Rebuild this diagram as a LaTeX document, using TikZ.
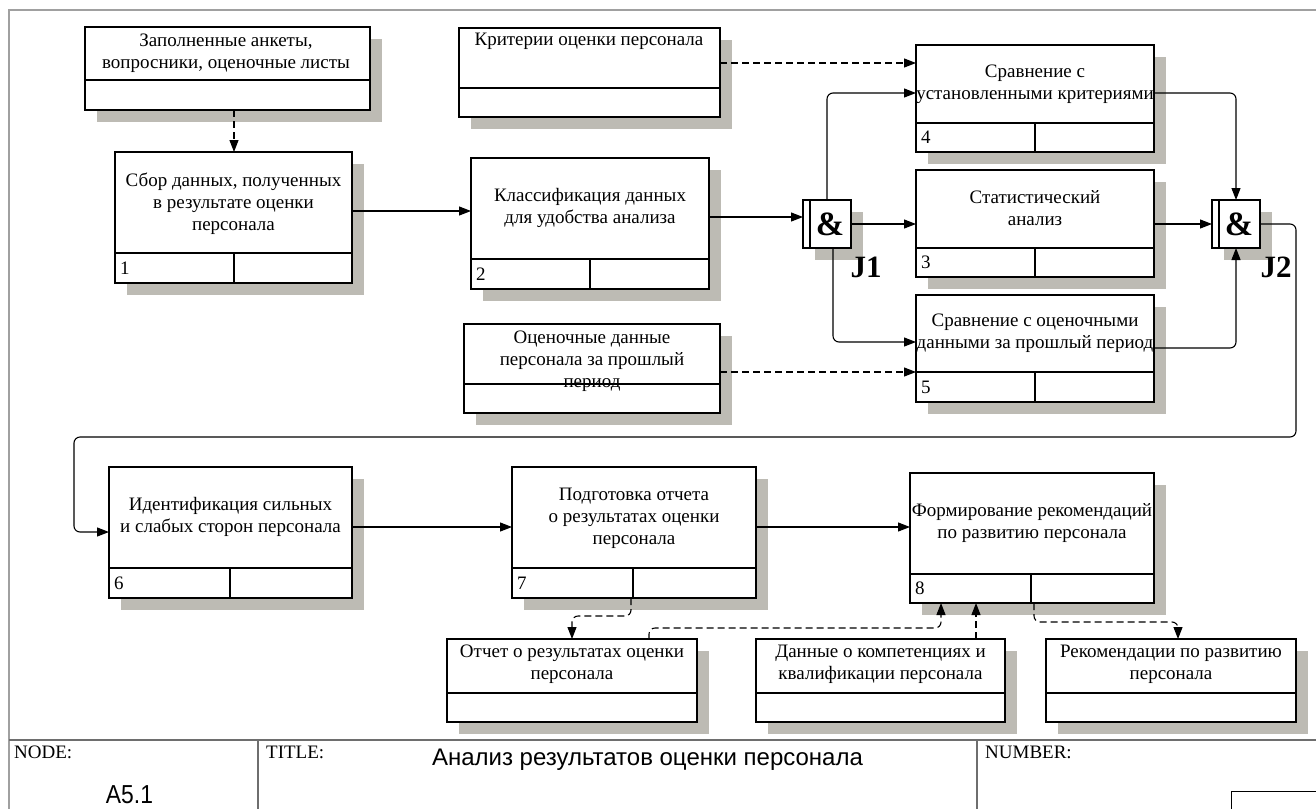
\documentclass[tikz,border=0pt]{standalone}
\usepackage{fontspec}
\setmainfont{Liberation Serif}
\newfontfamily\narrowsans[FakeStretch=0.88]{Liberation Sans}
\newfontfamily\plainsans{Liberation Sans}
\usetikzlibrary{arrows.meta}

\definecolor{shadowgray}{RGB}{189,187,180}
\definecolor{framegray}{RGB}{160,160,160}
\definecolor{footgray}{RGB}{110,110,110}

% activity box: name, x1, y1, x2, y2, divider y, vertical divider x, number
\newcommand{\actbox}[8]{%
  \fill[shadowgray] (#2+12,#3+12) rectangle (#4+12,#5+12);
  \node[boxnode, minimum width={(#4)-(#2)}, minimum height={(#5)-(#3)}]
    (#1) at ({((#2)+(#4))/2},{((#3)+(#5))/2}) {};
  \draw[boxrule] (#2,#6) -- (#4,#6);
  \draw[boxrule] (#7,#6) -- (#7,#5);
  \node[numlbl, anchor=west] (#1-num) at ({(#2)+5},{((#6)+(#5))/2}) {#8};
}
% data box: name, x1, y1, x2, y2, divider y
\newcommand{\datbox}[6]{%
  \fill[shadowgray] (#2+12,#3+12) rectangle (#4+12,#5+12);
  \node[boxnode, minimum width={(#4)-(#2)}, minimum height={(#5)-(#3)}]
    (#1) at ({((#2)+(#4))/2},{((#3)+(#5))/2}) {};
  \draw[boxrule] (#2,#6) -- (#4,#6);
}
% junction: name, x1, y1 (48 x 48)
\newcommand{\andjunction}[3]{%
  \fill[shadowgray] (#2+12,#3+12) rectangle (#2+60,#3+60);
  \node[boxnode, minimum width=48, minimum height=48] (#1) at (#2+24,#3+24) {};
  \draw[boxrule] (#2+7,#3) -- (#2+7,#3+48);
  \node[font=\fontsize{34}{34}\selectfont\bfseries, inner sep=0] (#1-amp) at (#2+27,#3+24) {\&};
}

\begin{document}
\begin{tikzpicture}[x=1pt,y=-1pt,
  boxnode/.style={draw=black, fill=white, line width=2.2pt, inner sep=0pt, outer sep=0pt},
  boxrule/.style={black, line width=2.2pt},
  numlbl/.style={font=\fontsize{19}{19}\selectfont, inner sep=0pt},
  lbl/.style={font=\fontsize{19}{22}\selectfont, align=center, inner sep=0pt},
  conn/.style={black, line width=1.1pt, rounded corners=6pt, -{Triangle[length=12pt,width=9pt]}},
  dconn/.style={conn, dash pattern=on 7pt off 4pt},
  jlbl/.style={font=\fontsize{31}{31}\selectfont\bfseries, inner sep=0pt},
  footlbl/.style={font=\fontsize{19}{19}\selectfont, inner sep=0pt, anchor=base west}]

\useasboundingbox (0,0) rectangle (1316,809);

% sheet frame and footer
\draw[framegray, line width=1.2pt] (1316,10) -- (9,10) -- (9,809);
\draw[footgray, line width=1.2pt] (9,740) -- (1316,740);
\draw[footgray, line width=1.2pt] (258,740) -- (258,809);
\draw[footgray, line width=1.2pt] (977,740) -- (977,809);
\draw[black, line width=1pt] (1316,791) -- (1231,791) -- (1231,809);

% boxes
\datbox{ankety}{85}{27}{370}{110}{80}
\actbox{b1}{115}{152}{352}{283}{253}{234}{1}
\datbox{krit}{459}{28}{720}{117}{88}
\actbox{b2}{471}{158}{709}{289}{259}{590}{2}
\andjunction{j1}{803}{200}
\actbox{b4}{916}{45}{1154}{152}{123}{1035}{4}
\actbox{b3}{916}{170}{1154}{277}{248}{1035}{3}
\actbox{b5}{916}{295}{1154}{402}{372}{1035}{5}
\datbox{ocen}{464}{324}{720}{413}{384}
\andjunction{j2}{1212}{200}
\actbox{b6}{109}{467}{352}{598}{568}{230}{6}
\actbox{b7}{512}{467}{756}{598}{568}{633}{7}
\actbox{b8}{910}{473}{1154}{603}{574}{1031}{8}
\datbox{otchet}{447}{639}{697}{722}{693}
\datbox{dannye}{756}{639}{1005}{722}{693}
\datbox{rekom}{1046}{639}{1296}{722}{693}

% connectors
\draw[dconn] (234,0 |- ankety.south) -- (234,0 |- b1.north);
\draw[conn] (b1.east |- 0,211) -- (b2.west |- 0,211);
\draw[dconn] (krit.east |- 0,63) -- (b4.west |- 0,63);
\draw[conn] (b2.east |- 0,217) -- (j1.west |- 0,217);
\draw[conn] (j1.north) |- (b4.west |- 0,93);
\draw[conn] (j1.east |- 0,224) -- (b3.west |- 0,224);
\draw[conn] (833,0 |- j1.south) |- (b5.west |- 0,342);
\draw[dconn] (ocen.east |- 0,372) -- (b5.west |- 0,372);
\draw[conn] (b4.east |- 0,93) -| (j2.north);
\draw[conn] (b3.east |- 0,224) -- (j2.west |- 0,224);
\draw[conn] (b5.east |- 0,348) -| (j2.south);
\draw[conn] (j2.east |- 0,224) -- (1296,224) -- (1296,437) -- (74,437) -- (74,532) -- (b6.west |- 0,532);
\draw[conn] (b6.east |- 0,527) -- (b7.west |- 0,527);
\draw[conn] (b7.east |- 0,527) -- (b8.west |- 0,527);
\draw[dconn] (631,0 |- b7.south) -- (631,616) -| (572,0 |- otchet.north);
\draw[dconn] (649,0 |- otchet.north) -- (649,628) -| (941,0 |- b8.south);
\draw[dconn] (976,0 |- dannye.north) -- (976,0 |- b8.south);
\draw[dconn] (1034,0 |- b8.south) -- (1034,622) -| (1178,0 |- rekom.north);

% junction labels
\node[jlbl] (j1-name) at (866,267) {J1};
\node[jlbl] (j2-name) at (1276,267) {J2};

% box texts
\node[lbl] (t-ankety) at (226,53) {Заполненные анкеты,\\вопросники, оценочные листы};
\node[lbl] (t-b1) at (233.5,204) {Сбор данных, полученных\\в результате оценки\\персонала};
\node[lbl] (t-krit) at (589,41) {Критерии оценки персонала};
\node[lbl] (t-b2) at (590,208) {Классификация данных\\для удобства анализа};
\node[lbl] (t-b4) at (1035,84) {Сравнение с\\установленными критериями};
\node[lbl] (t-b3) at (1035,208.5) {Статистический\\анализ};
\node[lbl] (t-b5) at (1035,333) {Сравнение с оценочными\\данными за прошлый период};
\node[lbl] (t-ocen) at (592,361) {Оценочные данные\\персонала за прошлый\\период};
\node[lbl] (t-b6) at (230.5,517) {Идентификация сильных\\и слабых сторон персонала};
\node[lbl] (t-b7) at (634,518) {Подготовка отчета\\о результатах оценки\\персонала};
\node[lbl] (t-b8) at (1032,523.5) {Формирование рекомендаций\\по развитию персонала};
\node[lbl] (t-otchet) at (572,664) {Отчет о результатах оценки\\персонала};
\node[lbl] (t-dannye) at (880.5,664) {Данные о компетенциях и\\квалификации персонала};
\node[lbl] (t-rekom) at (1171,664) {Рекомендации по развитию\\персонала};

% footer texts
\node[footlbl] (f-node) at (14,758) {NODE:};
\node[footlbl] (f-title) at (266,758) {TITLE:};
\node[footlbl] (f-number) at (985,758) {NUMBER:};
\node[font=\fontsize{26}{26}\narrowsans, inner sep=0pt, anchor=base] (f-a51) at (129.5,803) {A5.1};
\node[font=\fontsize{24}{24}\plainsans, inner sep=0pt, anchor=base] (f-tname) at (647.5,765) {Анализ результатов оценки персонала};

\end{tikzpicture}
\end{document}
